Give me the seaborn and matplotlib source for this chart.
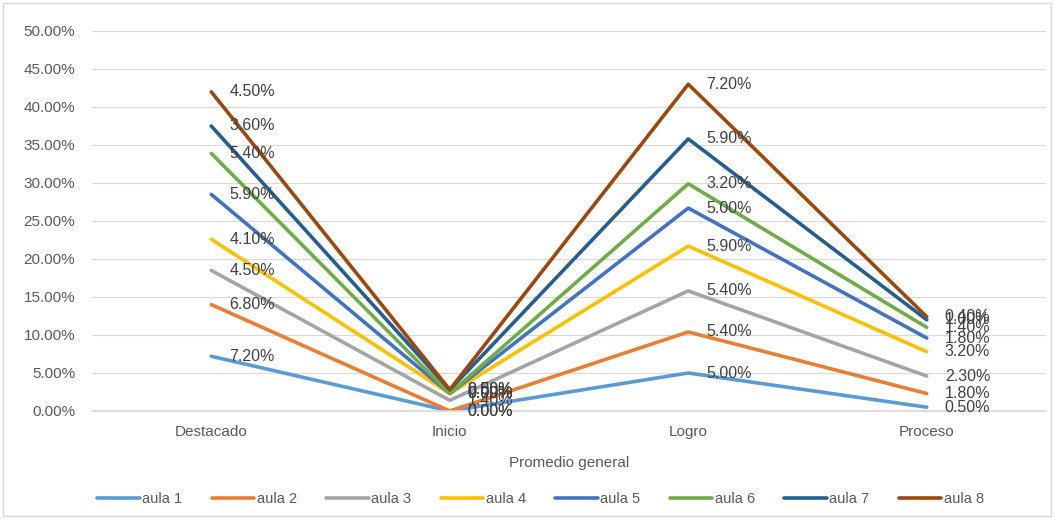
import matplotlib
matplotlib.use("Agg")
import matplotlib.pyplot as plt
import seaborn as sns
import pandas as pd
import numpy as np
from matplotlib.patches import Rectangle
from matplotlib.ticker import FuncFormatter
from matplotlib.lines import Line2D

categories = ["Destacado", "Inicio", "Logro", "Proceso"]
series = ["aula 1", "aula 2", "aula 3", "aula 4", "aula 5", "aula 6", "aula 7", "aula 8"]
aula1 = [7.20, 0.00, 5.00, 0.50]
aula2 = [6.80, 0.00, 5.40, 1.80]
aula3 = [4.50, 1.40, 5.40, 2.30]
aula4 = [4.10, 0.90, 5.90, 3.20]
aula5 = [5.90, 0.00, 5.00, 1.80]
aula6 = [5.40, 0.00, 3.20, 1.40]
aula7 = [3.60, 0.50, 5.90, 1.00]
aula8 = [4.50, 0.00, 7.20, 0.40]
values = [aula1, aula2, aula3, aula4, aula5, aula6, aula7, aula8]
colors = ["#5B9BD5", "#ED7D31", "#A5A5A5", "#FFC000", "#4472C4", "#70AD47", "#255E91", "#9E480E"]

sns.set_theme(style="white")
plt.rcParams['font.family'] = ['Liberation Sans', 'DejaVu Sans']

vals = np.array(values)
cum = np.cumsum(vals, axis=0)
rows = []
for i, s in enumerate(series):
    for j, c in enumerate(categories):
        rows.append({"serie": s, "x": j, "cum": cum[i, j], "val": vals[i, j]})
df = pd.DataFrame(rows)

fig = plt.figure(figsize=(10.54, 5.19), dpi=100)
ax = fig.add_axes([92/1054, 1-411/519, (1046-92)/1054, 380/519])
sns.lineplot(data=df, x="x", y="cum", hue="serie", palette=colors, linewidth=2.6,
             ax=ax, legend=False, sort=False)
for i in range(len(series)):
    for j in range(len(categories)):
        ax.annotate(f"{vals[i, j]:.2f}%", (j, cum[i, j]), xytext=(13, 0),
                    textcoords="offset points", va="center", ha="left",
                    fontsize=11.5, color="#404040")

ax.set_xlim(-0.5, 3.5)
ax.set_ylim(0, 50)
ax.set_yticks(np.arange(0, 51, 5))
ax.yaxis.set_major_formatter(FuncFormatter(lambda v, p: f"{v:.2f}%"))
ax.set_xticks(range(4))
ax.set_xticklabels(categories)
ax.tick_params(axis="both", colors="#595959", labelsize=11, length=0)
ax.tick_params(axis="y", pad=12)
ax.tick_params(axis="x", pad=10)
ax.grid(axis="y", color="#D9D9D9", linewidth=0.8)
ax.set_axisbelow(True)
for sp in ["top", "right", "left"]:
    ax.spines[sp].set_visible(False)
ax.spines["bottom"].set_color("#D9D9D9")
ax.set_xlabel("Promedio general", color="#595959", fontsize=11, labelpad=12)
ax.set_ylabel("")

handles = [Line2D([0], [0], color=c, lw=2.6) for c in colors]
fig.legend(handles, series, loc="center", bbox_to_anchor=(0.513, 1-499/519), ncol=8,
           frameon=False, fontsize=10.5, handlelength=2.9, handletextpad=0.2,
           columnspacing=2.0, labelcolor="#595959")

fig.patches.append(Rectangle((3/1054, 3/519), 1-6/1054, 1-6/519, transform=fig.transFigure,
                             fill=False, edgecolor="#D9D9D9", linewidth=1))
fig.savefig("out.png", dpi=100)
